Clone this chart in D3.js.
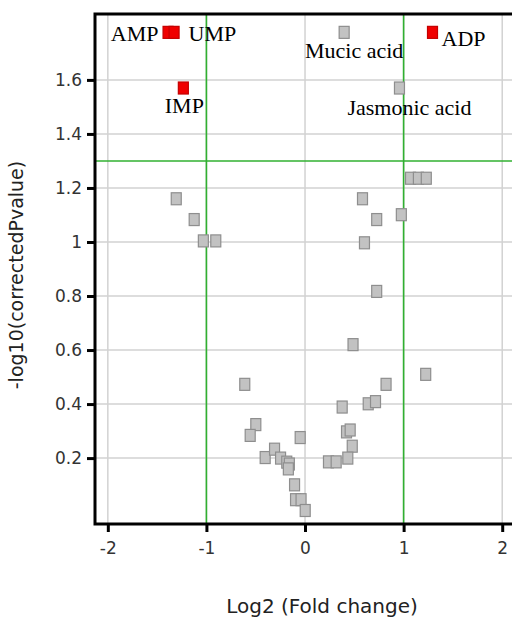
<!DOCTYPE html>
<html>
<head>
<meta charset="utf-8">
<script src="https://cdn.jsdelivr.net/npm/d3@7"></script>
<style>
  body { margin: 0; background: #fff; }
</style>
</head>
<body>
<svg id="chart"></svg>
<script>
// log2 fold change and -log10 corrected p value, unlabeled metabolites
const grayX = [-1.306, -1.124, -1.031, -0.905, 1.07, 1.15, 1.23, 0.583, 0.727, 0.977,
    0.603, 0.727, -0.611, -0.499, -0.556, -0.404, -0.309, -0.248, -0.185, -0.159,
    -0.169, -0.049, -0.106, -0.096, -0.040, 0.002, 0.238, 0.316, 0.377, 0.421,
    0.458, 0.479, 0.434, 0.487, 1.224, 0.822, 0.641, 0.715];
const grayY = [1.160, 1.083, 1.004, 1.004, 1.236, 1.236, 1.236, 1.160, 1.083, 1.101,
    0.997, 0.817, 0.473, 0.324, 0.284, 0.202, 0.233, 0.200, 0.185, 0.178,
    0.160, 0.276, 0.101, 0.046, 0.046, 0.006, 0.186, 0.186, 0.389, 0.297,
    0.304, 0.244, 0.200, 0.620, 0.510, 0.473, 0.401, 0.409];

// labeled metabolites
const labelNames = ['AMP', 'UMP', 'IMP', 'ADP', 'Mucic acid', 'Jasmonic acid'];
const labelX = [-1.389, -1.328, -1.234, 1.293, 0.397, 0.958];
const labelY = [1.776, 1.776, 1.570, 1.776, 1.776, 1.570];
const labelSignificant = [true, true, true, true, false, false];

// axes
const xTicks = [-2, -1, 0, 1, 2];
const yTicks = [0.2, 0.4, 0.6, 0.8, 1, 1.2, 1.4, 1.6];
const foldThresholds = [-1, 1];
const pThreshold = 1.3;

function DrawVolcano(targetElem, width, height) {
    const left = 95, right = 517, top = 14, bottom = 524;

    const svg = d3.select(targetElem)
        .attr('width', width)
        .attr('height', height);

    svg.selectAll('*').remove();

    const xScale = d3.scaleLinear()
        .domain([-2.13, 2.15])
        .range([left, right]);

    const yScale = d3.scaleLinear()
        .domain([-0.044, 1.844])
        .range([bottom, top]);

    // grid
    svg.append('g').selectAll('line')
        .data(xTicks)
        .join('line')
        .attr('x1', d => xScale(d)).attr('x2', d => xScale(d))
        .attr('y1', top).attr('y2', bottom)
        .style('stroke', '#d2d2d2')
        .style('stroke-width', 1.5);

    svg.append('g').selectAll('line')
        .data(yTicks)
        .join('line')
        .attr('x1', left).attr('x2', right)
        .attr('y1', d => yScale(d)).attr('y2', d => yScale(d))
        .style('stroke', '#d2d2d2')
        .style('stroke-width', 1.5);

    // threshold lines
    svg.append('g').selectAll('line')
        .data(foldThresholds)
        .join('line')
        .attr('x1', d => xScale(d)).attr('x2', d => xScale(d))
        .attr('y1', top).attr('y2', bottom)
        .style('stroke', '#30b030')
        .style('stroke-width', 1.6);

    svg.append('line')
        .attr('x1', left).attr('x2', right)
        .attr('y1', yScale(pThreshold)).attr('y2', yScale(pThreshold))
        .style('stroke', '#30b030')
        .style('stroke-width', 1.6);

    // Draw x axis
    const xAxis = svg.append('g')
        .attr('transform', `translate(0, ${bottom})`)
        .call(d3.axisBottom(xScale).tickValues(xTicks).tickSize(8).tickPadding(10).tickSizeOuter(0));

    // Draw y axis
    const yAxis = svg.append('g')
        .attr('transform', `translate(${left}, 0)`)
        .call(d3.axisLeft(yScale).tickValues(yTicks).tickSize(8).tickPadding(5).tickSizeOuter(0)
            .tickFormat(d3.format('~g')));

    [xAxis, yAxis].forEach(ax => {
        ax.select('.domain').remove();
        ax.selectAll('.tick line').style('stroke', '#000').style('stroke-width', 3);
        ax.selectAll('.tick text')
            .style('font-family', 'DejaVu Sans')
            .style('font-size', '17px')
            .style('fill', '#333');
    });
    xAxis.selectAll('.tick text').text(d => d < 0 ? '-' + Math.abs(d) : d);

    // frame
    svg.append('path')
        .attr('d', `M${right},${top}H${left}V${bottom}H${right}`)
        .style('fill', 'none')
        .style('stroke', '#000')
        .style('stroke-width', 3);

    // gray points
    const rw = 10, rh = 12;
    grayX.forEach((x, i) => {
        svg.append('rect')
            .attr('x', xScale(x) - rw / 2)
            .attr('y', yScale(grayY[i]) - rh / 2)
            .attr('width', rw)
            .attr('height', rh)
            .style('fill', '#c2c2c2')
            .style('stroke', '#8e8e8e')
            .style('stroke-width', 1.2);
    });

    // labeled points
    const offsets = {
        'AMP': [-9.5, 9, 'end'],
        'UMP': [14.5, 9, 'start'],
        'IMP': [1, 25, 'middle'],
        'ADP': [9, 14, 'start'],
        'Mucic acid': [10, 25.5, 'middle'],
        'Jasmonic acid': [10, 27, 'middle']
    };
    labelNames.forEach((name, i) => {
        const cx = xScale(labelX[i]);
        const cy = yScale(labelY[i]);
        const sig = labelSignificant[i];
        svg.append('rect')
            .attr('x', cx - rw / 2)
            .attr('y', cy - rh / 2)
            .attr('width', rw)
            .attr('height', rh)
            .style('fill', sig ? '#f00000' : '#c2c2c2')
            .style('stroke', sig ? '#c40000' : '#8e8e8e')
            .style('stroke-width', 1.2);

        const o = offsets[name];
        svg.append('text')
            .attr('x', cx + o[0])
            .attr('y', cy + o[1])
            .attr('text-anchor', o[2])
            .style('font-family', 'Liberation Serif')
            .style('font-size', '22px')
            .style('fill', '#000')
            .text(name);
    });

    // axis titles
    svg.append('text')
        .attr('x', 322)
        .attr('y', 613)
        .attr('text-anchor', 'middle')
        .style('font-family', 'DejaVu Sans')
        .style('font-size', '20px')
        .style('fill', '#222')
        .text('Log2 (Fold change)');

    svg.append('text')
        .attr('transform', 'translate(23, 275) rotate(-90)')
        .attr('text-anchor', 'middle')
        .style('font-family', 'DejaVu Sans')
        .style('font-size', '19px')
        .style('fill', '#222')
        .text('-log10(correctedPvalue)');
}

DrawVolcano('#chart', 512, 621);
</script>
</body>
</html>
